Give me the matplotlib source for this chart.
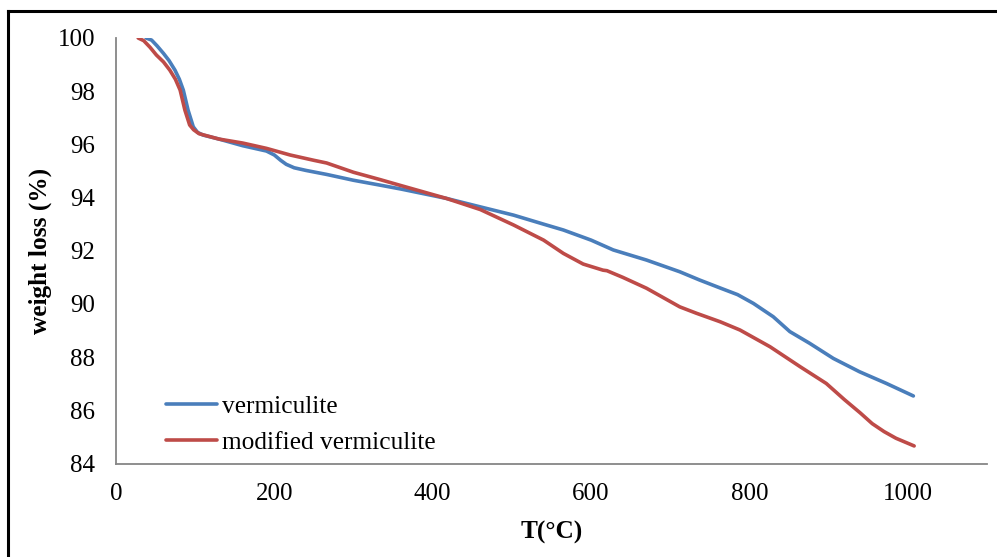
import matplotlib
matplotlib.use("Agg")
import matplotlib.pyplot as plt
from matplotlib.lines import Line2D

plt.rcParams['font.family'] = ['Liberation Serif', 'DejaVu Serif']

# Data
t_verm = [38, 45, 52, 60, 67, 74.5, 80, 85, 91, 97.6, 103, 110, 130, 160, 190, 200, 208, 215,
          225, 240, 266, 300, 333, 360, 417, 460, 502, 540, 565, 600, 628, 670, 712, 737, 763,
          785, 805, 830, 851, 876, 906, 939, 973, 1007]
w_verm = [100, 99.92, 99.7, 99.42, 99.15, 98.79, 98.45, 98.04, 97.29, 96.66, 96.45, 96.35,
          96.2, 95.95, 95.75, 95.6, 95.4, 95.25, 95.12, 95.02, 94.87, 94.65, 94.47, 94.32,
          93.97, 93.65, 93.34, 93.0, 92.78, 92.4, 92.03, 91.65, 91.21, 90.9, 90.6, 90.35,
          90.02, 89.52, 88.96, 88.52, 87.95, 87.45, 87.01, 86.54]

t_mod = [28, 35, 43, 51, 60, 68, 75, 81, 87, 93, 98, 105, 130, 160, 190, 220, 250, 266, 300,
         333, 360, 417, 460, 502, 540, 565, 590, 615, 620, 640, 670, 712, 733, 763, 788, 826,
         864, 897, 920, 940, 955, 970, 985, 1008]
w_mod = [100, 99.9, 99.65, 99.36, 99.1, 98.79, 98.45, 98.04, 97.29, 96.73, 96.55, 96.4, 96.2,
         96.05, 95.85, 95.6, 95.4, 95.3, 94.95, 94.68, 94.45, 93.97, 93.55, 92.97, 92.4, 91.9,
         91.5, 91.27, 91.25, 91.0, 90.59, 89.89, 89.65, 89.33, 89.02, 88.39, 87.64, 87.01,
         86.4, 85.9, 85.5, 85.2, 84.95, 84.66]

series_labels = ["vermiculite", "modified vermiculite"]
x_ticks = [0, 200, 400, 600, 800, 1000]
y_ticks = [84, 86, 88, 90, 92, 94, 96, 98, 100]

blue = "#4A7EBB"
red = "#BE4B48"

W, H = 997, 557
fig = plt.figure(figsize=(W / 100, H / 100), dpi=100)
ax = fig.add_axes([116 / W, 1 - 463.5 / H, (987 - 116) / W, (463.5 - 38) / H])

ax.plot(t_verm, w_verm, color=blue, lw=2.6, label=series_labels[0],
        solid_capstyle='round', solid_joinstyle='round')
ax.plot(t_mod, w_mod, color=red, lw=2.6, label=series_labels[1],
        solid_capstyle='round', solid_joinstyle='round')

ax.set_xlim(0, 1100)
ax.set_ylim(84, 100)
ax.set_xticks(x_ticks)
ax.set_yticks(y_ticks)
ax.tick_params(axis='both', length=0, labelsize=18)
ax.tick_params(axis='y', pad=15)
ax.tick_params(axis='x', pad=14)

for s in ['top', 'right']:
    ax.spines[s].set_visible(False)
for s in ['left', 'bottom']:
    ax.spines[s].set_color('#868686')
    ax.spines[s].set_linewidth(1.3)

ax.set_xlabel("T(°C)", fontsize=18.2, fontweight='bold', va='center')
ax.set_ylabel("weight loss (%)", fontsize=18.2, fontweight='bold', va='center')
ax.xaxis.set_label_coords(0.5, -0.163)
ax.yaxis.set_label_coords(-0.0873, 0.5)

leg = ax.legend(loc='center left', bbox_to_anchor=(0.0574, 0.0917), frameon=False,
                fontsize=18.3, handlelength=2.0, handletextpad=0.22, borderpad=0,
                borderaxespad=0, labelspacing=0.5)

# figure border (top and left visible in reference)
fig.add_artist(Line2D([7.5 / W, 1.0], [1 - 10.5 / H, 1 - 10.5 / H], color='black', lw=2.2,
                      transform=fig.transFigure))
fig.add_artist(Line2D([7.5 / W, 7.5 / W], [0, 1 - 10.5 / H], color='black', lw=2.2,
                      transform=fig.transFigure))

fig.savefig("out.png", dpi=100)
